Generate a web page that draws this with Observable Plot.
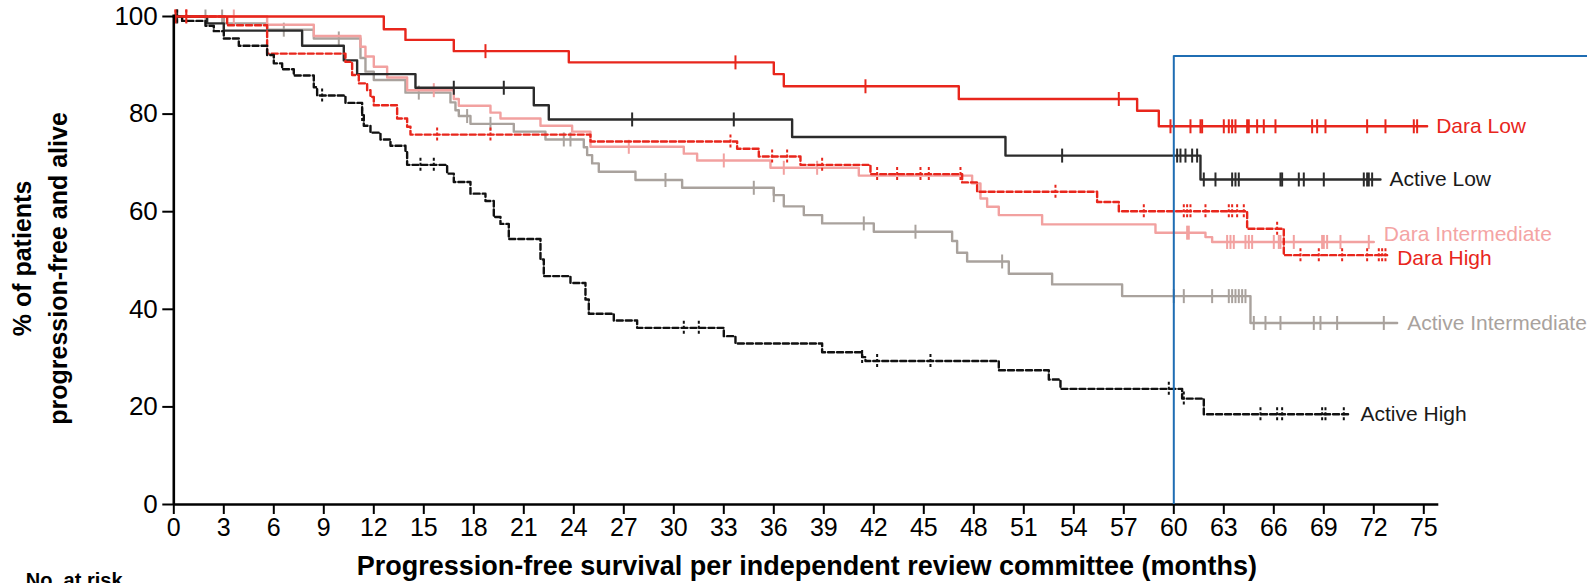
<!DOCTYPE html>
<html>
<head>
<meta charset="utf-8">
<script src="https://cdn.jsdelivr.net/npm/d3@7"></script>
<script src="https://cdn.jsdelivr.net/npm/@observablehq/plot@0.6"></script>
<style>
  html, body { margin: 0; padding: 0; background: #fff; overflow: hidden; }
  #chart svg { display: block; }
</style>
</head>
<body>
<div id="chart"></div>
<script>
// ---------- data ----------
const xTicks = [0,3,6,9,12,15,18,21,24,27,30,33,36,39,42,45,48,51,54,57,60,63,66,69,72,75];
const yTicks = [0,20,40,60,80,100];
const xTitle = "Progression-free survival per independent review committee (months)";
const yTitle1 = "% of patients";
const yTitle2 = "progression-free and alive";
const riskTitle = "No. at risk";
const landmarkMonth = 60;
const landmarkTop = 91.9;

const seriesNames = ["Active Intermediate","Dara Intermediate","Active Low","Dara High","Active High","Dara Low"];

const daraLowTimes  = [0, 12.6, 13.9, 16.8, 23.7, 36.0, 36.6, 47.1, 57.8, 59.1];
const daraLowValues = [100, 97.4, 95.2, 92.9, 90.6, 88.2, 85.7, 83.1, 80.7, 77.5];
const daraLowEnd = 75.2;
const daraLowCensor = [0.1, 0.75, 18.7, 33.7, 41.5, 56.7, 59.8, 61.0, 61.6, 61.7, 63.0, 63.3, 63.5, 63.7, 64.4, 64.5, 65.0, 65.4, 66.1, 68.3, 68.6, 69.1, 71.6, 72.7, 74.4, 74.6];

const activeLowTimes  = [0, 2.0, 3.0, 7.7, 10.2, 11.0, 14.5, 21.6, 22.5, 37.1, 49.9, 61.6];
const activeLowValues = [100, 98.6, 97.1, 94.0, 91.0, 88.2, 85.4, 81.8, 78.9, 75.3, 71.5, 66.6];
const activeLowEnd = 72.4;
const activeLowCensor = [0.2, 16.8, 19.8, 27.5, 33.6, 53.3, 60.2, 60.4, 60.7, 61.1, 61.4, 61.8, 62.5, 63.5, 63.7, 63.9, 66.4, 66.5, 67.5, 67.8, 69.0, 71.4, 71.6, 71.7, 71.9];

const daraIntTimes  = [0, 5.6, 8.4, 11.2, 11.5, 12.0, 12.8, 14.0, 16.8, 17.1, 19.0, 19.6, 22.0, 23.9, 25.0, 30.6, 31.4, 35.8, 41.1, 47.9, 48.4, 48.8, 49.5, 52.1, 58.9, 61.9, 62.3];
const daraIntValues = [100, 98.3, 96.0, 93.8, 91.8, 89.7, 87.5, 84.9, 83.1, 81.7, 80.3, 79.1, 77.6, 76.4, 73.3, 71.9, 70.5, 69.0, 67.4, 65.8, 62.7, 61.0, 59.3, 57.4, 55.7, 54.8, 53.8];
const daraIntEnd = 72.0;
const daraIntCensor = [3.6, 15.6, 27.3, 33.0, 36.6, 38.6, 60.8, 60.9, 63.2, 63.4, 63.6, 64.3, 64.5, 64.7, 66.0, 66.3, 66.4, 67.2, 68.9, 69.0, 69.2, 70.0, 71.7];

const daraHighTimes  = [0, 3.2, 5.6, 10.3, 10.7, 11.1, 11.6, 11.8, 12.0, 13.4, 14.0, 14.2, 25.0, 33.8, 35.1, 37.6, 41.8, 47.3, 48.2, 55.4, 56.7, 64.4, 66.6];
const daraHighValues = [100, 98.2, 92.4, 90.7, 88.0, 86.3, 84.9, 83.5, 81.8, 79.1, 77.4, 75.8, 74.4, 72.9, 71.3, 69.6, 67.7, 66.0, 64.1, 62.0, 60.1, 56.5, 51.1];
const daraHighEnd = 72.8;
const daraHighCensor = [0.1, 0.75, 15.8, 19.0, 33.4, 35.9, 36.8, 38.9, 42.2, 43.4, 44.8, 45.3, 47.2, 52.9, 58.2, 60.6, 60.8, 61.0, 61.9, 63.3, 63.5, 63.8, 64.2, 66.2, 67.6, 68.7, 70.1, 71.6, 72.3, 72.5, 72.7];

const activeIntTimes  = [0, 3.0, 5.6, 8.4, 11.2, 11.5, 12.0, 13.9, 16.6, 16.9, 17.1, 17.8, 20.4, 22.3, 24.6, 24.8, 25.1, 25.5, 27.7, 30.5, 36.0, 36.6, 37.8, 38.9, 42.0, 46.7, 47.0, 47.6, 50.1, 52.7, 56.9, 64.6];
const activeIntValues = [100, 98.6, 97.3, 95.5, 91.5, 88.7, 87.0, 84.4, 82.4, 80.8, 79.6, 78.0, 76.4, 74.8, 73.2, 71.6, 69.9, 68.2, 66.5, 64.9, 63.4, 61.1, 59.3, 57.6, 55.9, 54.0, 51.6, 49.8, 47.3, 45.1, 42.7, 37.2];
const activeIntEnd = 73.4;
const activeIntCensor = [1.9, 2.9, 3.0, 6.6, 9.9, 14.7, 17.6, 19.0, 23.4, 23.8, 29.5, 34.8, 36.0, 41.4, 44.5, 49.7, 60.0, 60.6, 62.3, 63.3, 63.5, 63.7, 63.9, 64.1, 64.3, 64.8, 65.5, 66.4, 68.4, 68.8, 69.8, 72.6];

const activeHighTimes  = [0, 0.5, 1.9, 2.4, 3.0, 3.9, 5.6, 6.0, 6.5, 7.2, 8.4, 8.6, 10.3, 11.3, 11.4, 11.8, 12.4, 13.0, 13.9, 14.0, 16.4, 16.8, 17.8, 18.7, 19.2, 19.6, 20.1, 22.0, 22.2, 23.8, 24.7, 24.9, 26.4, 27.8, 33.0, 33.7, 38.9, 41.3, 41.5, 49.5, 52.5, 53.2, 60.5, 61.8];
const activeHighValues = [100, 99.1, 98.1, 97.0, 95.5, 94.0, 92.1, 90.4, 89.2, 87.9, 85.5, 83.8, 82.3, 79.8, 77.6, 76.2, 74.8, 73.5, 72.3, 69.6, 67.8, 66.1, 63.7, 62.2, 58.9, 57.5, 54.4, 50.2, 46.8, 45.4, 42.0, 39.1, 37.7, 36.2, 34.5, 33.0, 31.2, 30.2, 29.4, 27.5, 25.6, 23.7, 21.7, 18.5];
const activeHighEnd = 70.6;
const activeHighCensor = [0.2, 8.9, 11.3, 14.8, 15.6, 30.6, 31.5, 41.3, 42.2, 45.4, 59.7, 60.6, 65.2, 66.2, 66.5, 68.9, 69.1, 70.2];

// ---------- styles ----------
const RED = "#e8261c", PINK = "#f2a1a0", GRAY = "#a9a29d", DARK = "#2b2b2b", BLACK = "#111111", BLUE = "#1f6db3";
const styles = {
  "Dara Low":            {times: daraLowTimes,   values: daraLowValues,   end: daraLowEnd,   censor: daraLowCensor,   color: RED,   dash: null,  labelColor: RED,   dx: 9,  dy: 0},
  "Active Low":          {times: activeLowTimes, values: activeLowValues, end: activeLowEnd, censor: activeLowCensor, color: DARK,  dash: null,  labelColor: "#1a1a1a", dx: 9, dy: 0},
  "Dara Intermediate":   {times: daraIntTimes,   values: daraIntValues,   end: daraIntEnd,   censor: daraIntCensor,   color: PINK,  dash: null,  labelColor: "#f4a4a4", dx: 10, dy: -8},
  "Dara High":           {times: daraHighTimes,  values: daraHighValues,  end: daraHighEnd,  censor: daraHighCensor,  color: RED,   dash: "6,3", labelColor: RED,   dx: 10, dy: 3},
  "Active Intermediate": {times: activeIntTimes, values: activeIntValues, end: activeIntEnd, censor: activeIntCensor, color: GRAY,  dash: null,  labelColor: GRAY,  dx: 10, dy: 0},
  "Active High":         {times: activeHighTimes,values: activeHighValues,end: activeHighEnd,censor: activeHighCensor,color: BLACK, dash: "6,3", labelColor: "#1a1a1a", dx: 10, dy: 0}
};

const vtick = {
  draw(ctx, size) {
    const r = Math.sqrt(size / Math.PI);
    ctx.moveTo(0, -r);
    ctx.lineTo(0, r);
  }
};

function stepValue(times, values, t) {
  let v = values[0];
  for (let i = 0; i < times.length; i++) if (times[i] <= t) v = values[i];
  return v;
}

const FONT = "'Liberation Sans', Arial, Helvetica, sans-serif";
const marks = [];

for (const name of seriesNames) {
  const s = styles[name];
  const pts = s.times.map((t, i) => ({t, v: s.values[i]}));
  pts.push({t: s.end, v: s.values[s.values.length - 1]});
  marks.push(Plot.line(pts, {x: "t", y: "v", curve: "step-after", stroke: s.color, strokeWidth: 2.4, strokeDasharray: s.dash ?? undefined}));
  const cens = s.censor.map(t => ({t, v: stepValue(s.times, s.values, t)}));
  marks.push(Plot.dot(cens, {x: "t", y: "v", r: 7, symbol: vtick, stroke: s.color, fill: "none", strokeWidth: 2, strokeDasharray: s.dash ? "3,2" : undefined}));
}

// labels at the end of each curve
for (const name of seriesNames) {
  const s = styles[name];
  marks.push(Plot.text([{t: s.end, v: s.values[s.values.length - 1], name}], {
    x: "t", y: "v", text: "name", dx: s.dx, dy: s.dy, textAnchor: "start",
    fill: s.labelColor, fontSize: 21, fontFamily: FONT
  }));
}

// axes
marks.push(Plot.ruleY([0], {x1: 0, x2: 75.9, stroke: "black", strokeWidth: 2.6}));
marks.push(Plot.ruleX([0], {y1: 0, y2: 100.3, stroke: "black", strokeWidth: 2.6}));
marks.push(Plot.axisX({ticks: xTicks, tickSize: 10, tickPadding: 4, fontSize: 25, strokeWidth: 2, label: null, tickFormat: d => String(d), fontFamily: FONT, fill: "black"}));
marks.push(Plot.axisY({ticks: yTicks, tickSize: 11, tickPadding: 5, fontSize: 26, strokeWidth: 2, label: null, tickFormat: d => String(d), fontFamily: FONT, fill: "black"}));

// landmark box at 60 months
marks.push(Plot.ruleX([landmarkMonth], {y1: 0, y2: landmarkTop, stroke: BLUE, strokeWidth: 2}));
marks.push(Plot.ruleY([landmarkTop], {x1: landmarkMonth, x2: 90, stroke: BLUE, strokeWidth: 2}));

// titles
marks.push(Plot.text([xTitle], {frameAnchor: "bottom", text: d => d, dx: 8, dy: 70, lineAnchor: "bottom", fontSize: 27, fontWeight: "bold", fontFamily: FONT, fill: "black"}));
marks.push(Plot.text([yTitle1], {frameAnchor: "left", text: d => d, rotate: -90, textAnchor: "middle", dx: -143, dy: -2, lineAnchor: "bottom", fontSize: 25, fontWeight: "bold", fontFamily: FONT, fill: "black"}));
marks.push(Plot.text([yTitle2], {frameAnchor: "left", text: d => d, rotate: -90, textAnchor: "middle", dx: -107, dy: 8, lineAnchor: "bottom", fontSize: 25, fontWeight: "bold", fontFamily: FONT, fill: "black"}));
marks.push(Plot.text([riskTitle], {frameAnchor: "bottom-left", text: d => d, dx: -148, dy: 82, textAnchor: "start", lineAnchor: "bottom", fontSize: 20, fontWeight: "bold", fontFamily: FONT, fill: "black"}));

const chart = Plot.plot({
  width: 1587,
  height: 583,
  marginLeft: 173.3,
  marginRight: 163.7,
  marginTop: 16,
  marginBottom: 79,
  x: {domain: [0, 75]},
  y: {domain: [0, 100]},
  style: {fontFamily: FONT, background: "white", overflow: "visible"},
  marks
});
document.getElementById("chart").append(chart);
</script>
</body>
</html>
